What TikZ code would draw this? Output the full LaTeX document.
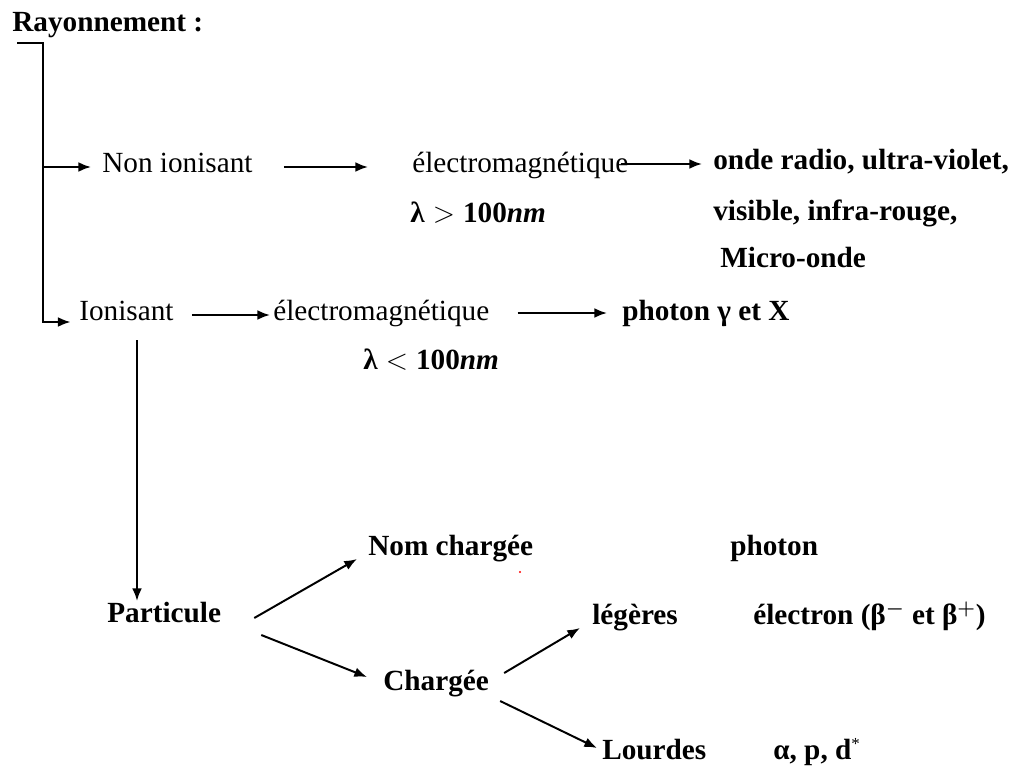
\documentclass[tikz,border=0pt]{standalone}
\usepackage{amsmath}
\usepackage{fontspec}
\setmainfont{Liberation Serif}
\usetikzlibrary{arrows.meta,calc}

\begin{document}
\begin{tikzpicture}[x=0.025cm,y=-0.025cm,
  every node/.style={anchor=west,inner sep=0pt,text height=0.95em,text depth=0.15em,
    font=\fontsize{20.8}{25}\selectfont},
  bf/.style={font=\fontsize{20.8}{25}\selectfont\bfseries},
  line/.style={line width=1.4pt},
  arr/.style={line width=1.4pt,-{Latex[length=9pt,width=7pt]}}]

\useasboundingbox (0,0) rectangle (1023,768);

\node[bf] (ray) at (12,26) {Rayonnement :};

% non ionisant
\node (nonion) at (102,167) {Non ionisant};
\node (em1) at (412,167) {électromagnétique};
\node[bf] (onde) at (713,164) {onde radio, ultra-violet,};
\node[bf] (lam1) at (410,217) {$\textbf{λ} > \textbf{100\textit{nm}}$};
\node[bf] (visible) at (713,215) {visible, infra-rouge,};
\node[bf] (micro) at (720,262) {Micro-onde};

% ionisant
\node (ion) at (79,315) {Ionisant};
\node (em2) at (273,315) {électromagnétique};
\node[bf] (photx) at (622,315) {photon γ et X};
\node[bf] (lam2) at (363,364) {$\textbf{λ} < \textbf{100\textit{nm}}$};

% particules
\node[bf] (part) at (107,617) {Particule};
\node[bf] (nomch) at (368,550) {Nom chargée};
\node[bf] (photon) at (730,550) {photon};
\node[bf] (charg) at (383,685) {Chargée};
\node[bf] (leg) at (592,619) {légères};
\node[bf] (electron) at (753,619) {électron (β$^{\boldsymbol{-}}$ et β$^{\boldsymbol{+}}$)};
\node[bf] (lourd) at (602,754) {Lourdes};
\node[bf] (alpha) at (773,754) {α, p, d\textsuperscript{\fontsize{12}{12}\selectfont\mdseries *}};

\coordinate (brk) at (17,43);
\coordinate (brkfoot) at (43,322);
\coordinate (ionfoot) at (137,340);

\draw[arr,shorten >=6pt] (brk) -| (brkfoot) -- (brkfoot -| ion.west);
\draw[arr,shorten >=7.8pt] (brkfoot |- nonion.west) -- (nonion.west);

\draw[arr] ($(nonion.east)+(31,0)$) -- ($(em1.west)+(-44,0)$);
\draw[arr] ($(em1.east)+(-8,-3)$) -- ($(onde.west)+(-11,0)$);
\draw[arr] ($(ion.east)+(18,0)$) -- ($(em2.west)+(-3,0)$);
\draw[arr] ($(em2.east)+(28,-2)$) -- ($(photx.west)+(-15,-2)$);

\draw[arr,shorten >=5.7pt] (ionfoot) -- (ionfoot |- part.north);

\draw[arr] ($(part.east)+(33,1)$) -- ($(nomch.west)+(-11,9)$);
\draw[arr] ($(part.east)+(40,18)$) -- ($(charg.west)+(-16,-8)$);
\draw[arr] ($(charg.east)+(15,-12)$) -- ($(leg.west)+(-12,9)$);
\draw[arr] ($(charg.east)+(11,16)$) -- ($(lourd.west)+(-5,-6)$);

\fill[red] (520,572) circle (1.2);

\end{tikzpicture}
\end{document}
